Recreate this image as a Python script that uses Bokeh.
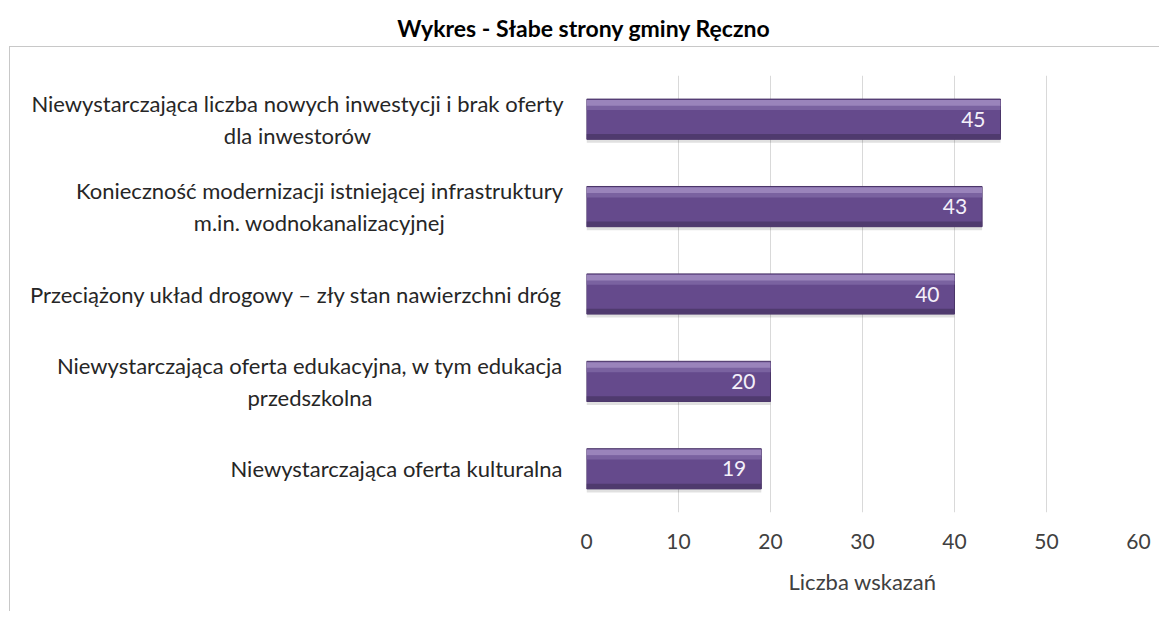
from bokeh.plotting import figure
from bokeh.models import FactorRange, FixedTicker, ColumnDataSource, Div
from bokeh.layouts import column, row
from bokeh.transform import dodge
from bokeh.core.properties import value
from bokeh.embed import file_html
from bokeh.resources import INLINE

title = "Wykres - Słabe strony gminy Ręczno"
categories = [
    "Niewystarczająca liczba nowych inwestycji i brak oferty\ndla inwestorów",
    "Konieczność modernizacji istniejącej infrastruktury\nm.in. wodnokanalizacyjnej",
    "Przeciążony układ drogowy – zły stan nawierzchni dróg",
    "Niewystarczająca oferta edukacyjna, w tym edukacja\nprzedszkolna",
    "Niewystarczająca oferta kulturalna",
]
counts = [45, 43, 40, 20, 19]
x_ticks = [0, 10, 20, 30, 40, 50, 60]
x_label = "Liczba wskazań"

FONT = "Lato"
# approximate rendered width (px) of the first line of each wrapped label (to centre the lines)
LABEL_FIRST_LINE_PX = [530, 486, 0, 505, 0]
LABEL_RIGHT_PAD = 5
BORDER = "1px solid #c8c8c8"
TOP, BOTTOM, H = 28, 100, 565

src = ColumnDataSource(dict(cat=categories, val=counts, lab=[str(v) for v in counts]))
y_range = FactorRange(factors=list(reversed(categories)))

# ---------- main bar chart ----------
p = figure(
    width=593, height=H, y_range=y_range, x_range=(0, 60),
    output_backend="svg", toolbar_location=None,
    min_border_left=20, min_border_right=21, min_border_top=TOP, min_border_bottom=BOTTOM,
)
p.styles = {"border-top": BORDER}
p.outline_line_color = None

p.hbar(y=dodge("cat", -0.03, range=y_range), right="val", left=0, height=0.48,
       source=src, fill_color="#000000", fill_alpha=0.12, line_color=None)
p.hbar(y="cat", right="val", left=0, height=0.46, source=src,
       fill_color="#654a8c", line_color="#4a3568", line_width=1)
p.hbar(y=dodge("cat", 0.185, range=y_range), right="val", left=0, height=0.07,
       source=src, fill_color="#9a84bb", line_color=None)
p.hbar(y=dodge("cat", 0.13, range=y_range), right="val", left=0, height=0.05,
       source=src, fill_color="#7a62a0", line_color=None)
p.hbar(y=dodge("cat", -0.2, range=y_range), right="val", left=0, height=0.06,
       source=src, fill_color="#4f3a6e", line_color=None)

p.text(x="val", y="cat", text="lab", source=src, x_offset=-15,
       text_align="right", text_baseline="middle", text_color="#f4f0fa",
       text_font=value(FONT), text_font_size="21px")

p.xaxis.ticker = FixedTicker(ticks=x_ticks)
p.xaxis.axis_line_color = None
p.xaxis.major_tick_line_color = None
p.xaxis.minor_tick_line_color = None
p.xaxis.major_label_standoff = 15
p.xaxis.major_label_text_font = FONT
p.xaxis.major_label_text_font_size = "21px"
p.xaxis.major_label_text_color = "#404040"
p.xaxis.axis_label = x_label
p.xaxis.axis_label_text_font = FONT
p.xaxis.axis_label_text_font_style = "normal"
p.xaxis.axis_label_text_font_size = "22px"
p.xaxis.axis_label_text_color = "#404040"
p.xaxis.axis_label_standoff = 16
p.yaxis.visible = False
p.xgrid.grid_line_color = "#d9d9d9"
p.ygrid.grid_line_color = None

# ---------- category label panel (shares the y range) ----------
aligns = ["center" if "\n" in c else "right" for c in categories]
offsets = [-(LABEL_RIGHT_PAD + w / 2) if "\n" in c else -LABEL_RIGHT_PAD
           for c, w in zip(categories, LABEL_FIRST_LINE_PX)]
lsrc = ColumnDataSource(dict(cat=categories, x=[1.0] * len(categories),
                             align=aligns, off=offsets))
lp = figure(
    width=557, height=H, y_range=y_range, x_range=(0, 1),
    output_backend="svg", toolbar_location=None,
    x_axis_location=None, y_axis_location=None,
    min_border_left=0, min_border_right=0, min_border_top=TOP, min_border_bottom=BOTTOM,
)
lp.margin = (0, 0, 0, 9)
lp.styles = {"border-left": BORDER, "border-top": BORDER}
lp.outline_line_color = None
lp.grid.grid_line_color = None
lp.text(x="x", y="cat", text="cat", source=lsrc, x_offset="off", text_align="align",
        text_baseline="middle", text_color="#262626", text_font=value(FONT),
        text_font_size="22px", text_line_height=1.2)

head = Div(text=title, width=1157, height=36,
           styles={"text-align": "center", "font-family": FONT, "font-weight": "bold",
                   "font-size": "23px", "color": "#000000", "width": "1157px",
                   "line-height": "30px", "padding-top": "8px"})

layout = column(head, row(lp, p, spacing=0), spacing=0)
open("out.html", "w").write(file_html(layout, INLINE))
